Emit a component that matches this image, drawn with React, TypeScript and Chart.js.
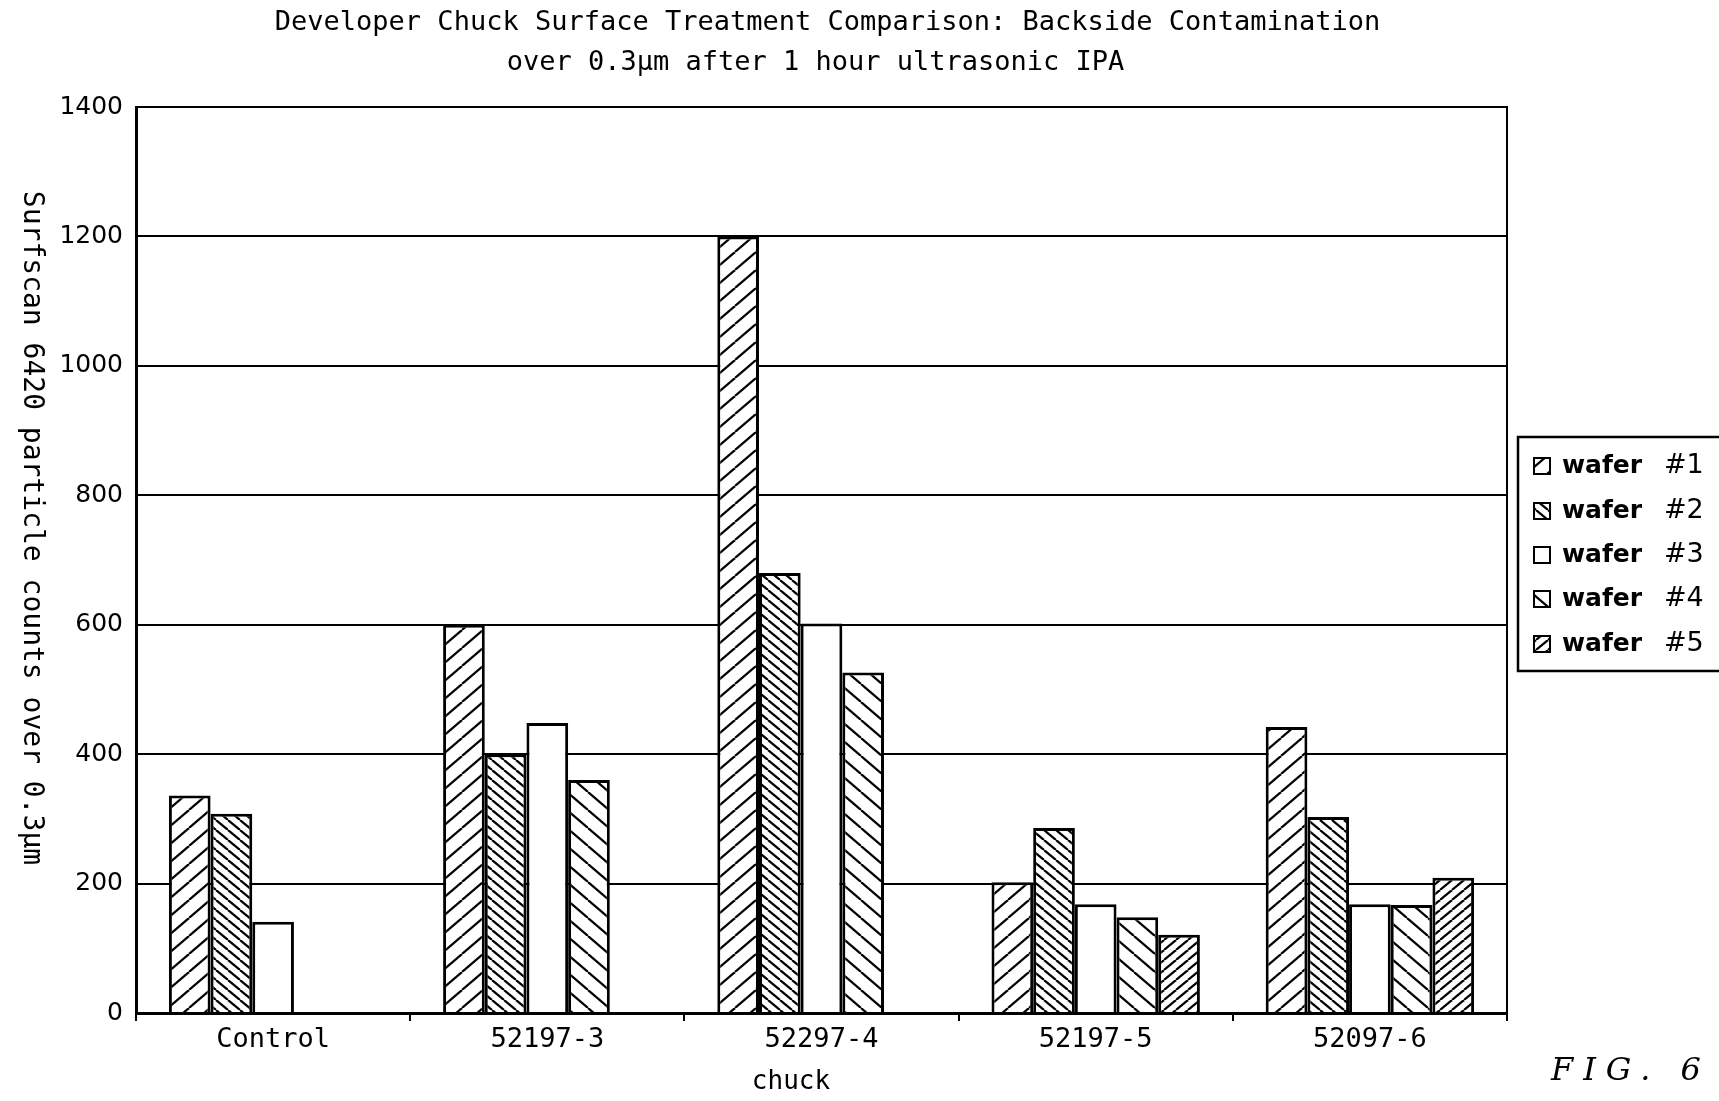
import React, { useEffect, useRef } from "react";
import { Chart, registerables } from "chart.js";

Chart.register(...registerables);

// ---- data ----
const categories = ["Control", "52197-3", "52297-4", "52197-5", "52097-6"];
const wafer1 = [336, 600, 1200, 202, 442];
const wafer2 = [308, 400, 680, 286, 303];
const wafer3 = [141, 448, 602, 168, 168];
const wafer4 = [null, 360, 526, 148, 167];
const wafer5 = [null, null, null, 121, 209];
const seriesNames = ["wafer", "wafer", "wafer", "wafer", "wafer"];
const seriesNumbers = ["#1", "#2", "#3", "#4", "#5"];
const yMin = 0;
const yMax = 1400;
const yStep = 200;
const titleLines = [
  "Developer Chuck Surface Treatment Comparison: Backside Contamination",
  "over 0.3μm after 1 hour ultrasonic IPA",
];
const yTitle = "Surfscan 6420 particle counts over 0.3μm";
const xTitle = "chuck";
const figLabel = "FIG. 6";

type Dir = "fwd" | "back" | "none";

function hatch(dir: Dir, w: number, h: number): CanvasPattern | string {
  const c = document.createElement("canvas");
  c.width = w;
  c.height = h;
  const g = c.getContext("2d");
  if (!g) return "#fff";
  g.fillStyle = "#fff";
  g.fillRect(0, 0, w, h);
  if (dir !== "none") {
    g.strokeStyle = "#000";
    g.lineWidth = 2.2;
    for (let k = -1; k <= 1; k++) {
      g.beginPath();
      if (dir === "fwd") {
        g.moveTo(k * w, h);
        g.lineTo(k * w + w, 0);
      } else {
        g.moveTo(k * w, 0);
        g.lineTo(k * w + w, h);
      }
      g.stroke();
    }
  }
  const p = g.createPattern(c, "repeat");
  return p || "#fff";
}

export default function App() {
  const ref = useRef<HTMLCanvasElement | null>(null);

  useEffect(() => {
    const canvas = ref.current;
    if (!canvas) return;

    const fills = [
      hatch("fwd", 21, 18),
      hatch("back", 12, 10),
      hatch("none", 10, 10),
      hatch("back", 21, 18),
      hatch("fwd", 12, 10),
    ];
    const series = [wafer1, wafer2, wafer3, wafer4, wafer5];

    const mono = '"DejaVu Sans Mono", monospace';

    const decor = {
      id: "decor",
      afterDraw(chart: any) {
        const ctx: CanvasRenderingContext2D = chart.ctx;
        const a = chart.chartArea;
        ctx.save();
        ctx.fillStyle = "#000";
        ctx.strokeStyle = "#000";

        // right border of plot
        ctx.lineWidth = 2;
        ctx.beginPath();
        ctx.moveTo(a.right, a.top - 1);
        ctx.lineTo(a.right, a.bottom);
        ctx.stroke();

        // title
        ctx.font = `27px ${mono}`;
        ctx.textAlign = "center";
        ctx.textBaseline = "middle";
        const cx = (a.left + a.right) / 2 + 6;
        ctx.fillText(titleLines[0], cx, 23);
        ctx.fillText(titleLines[1], cx - 12, 63);

        // y title (reads top to bottom)
        ctx.save();
        ctx.font = `28px ${mono}`;
        ctx.translate(31, 528);
        ctx.rotate(Math.PI / 2);
        ctx.fillText(yTitle, 0, 0);
        ctx.restore();

        // x title
        ctx.font = `26px ${mono}`;
        ctx.fillText(xTitle, 791, 1082);

        // legend box
        ctx.lineWidth = 2.5;
        ctx.strokeRect(1518, 437, 260, 234);
        const rowY = [466, 511, 555, 599, 644];
        for (let i = 0; i < 5; i++) {
          const y = rowY[i];
          ctx.fillStyle = fills[i] as any;
          ctx.fillRect(1534, y - 8, 16, 16);
          ctx.lineWidth = 2;
          ctx.strokeRect(1534, y - 8, 16, 16);
          ctx.fillStyle = "#000";
          ctx.textAlign = "left";
          ctx.textBaseline = "middle";
          ctx.font = 'bold 25px "DejaVu Sans", sans-serif';
          ctx.fillText(seriesNames[i], 1562, y);
          ctx.font = '27px "DejaVu Sans", sans-serif';
          ctx.fillText(seriesNumbers[i], 1664, y);
        }

        // FIG. 6
        ctx.font = 'italic 32px "DejaVu Serif", serif';
        ctx.textAlign = "left";
        ctx.textBaseline = "alphabetic";
        const anyCtx = ctx as any;
        if ("letterSpacing" in anyCtx) {
          anyCtx.letterSpacing = "10px";
          ctx.fillText(figLabel, 1551, 1080);
          anyCtx.letterSpacing = "0px";
        } else {
          let x = 1551;
          for (const ch of figLabel) {
            ctx.fillText(ch, x, 1080);
            x += ctx.measureText(ch).width + 10;
          }
        }
        ctx.restore();
      },
    };

    const chart = new Chart(canvas, {
      type: "bar",
      data: {
        labels: categories,
        datasets: series.map((d, i) => ({
          label: `${seriesNames[i]} ${seriesNumbers[i]}`,
          data: d as any,
          backgroundColor: fills[i] as any,
          borderColor: "#000",
          borderWidth: 3,
          barPercentage: 1,
          categoryPercentage: 0.76,
        })),
      },
      options: {
        responsive: false,
        animation: false,
        layout: { padding: { top: 107, right: 212, left: 0, bottom: 0 } },
        plugins: {
          legend: { display: false },
          title: { display: false },
          tooltip: { enabled: false },
        },
        scales: {
          x: {
            offset: true,
            grid: {
              display: true,
              drawOnChartArea: false,
              offset: true,
              tickLength: 8,
              color: "#000",
              lineWidth: 2,
            },
            border: { display: true, color: "#000", width: 3 },
            ticks: {
              color: "#000",
              font: { family: mono, size: 27 },
              padding: 3,
              maxRotation: 0,
              autoSkip: false,
            },
            afterFit: (s: any) => {
              s.height = 88;
            },
          },
          y: {
            min: yMin,
            max: yMax,
            ticks: {
              stepSize: yStep,
              color: "#000",
              font: { family: '"DejaVu Sans", sans-serif', size: 25 },
              padding: 13,
              callback: (v: any) => String(v),
            },
            grid: { color: "#000", lineWidth: 2, drawTicks: false },
            border: { display: true, color: "#000", width: 3 },
            afterFit: (s: any) => {
              s.width = 136;
            },
          },
        },
      },
      plugins: [decor],
    });

    return () => chart.destroy();
  }, []);

  return (
    <div style={{ position: "absolute", left: 0, top: 0, width: 1719, height: 1101, background: "#fff" }}>
      <canvas ref={ref} width={1719} height={1101} style={{ display: "block" }} />
    </div>
  );
}
